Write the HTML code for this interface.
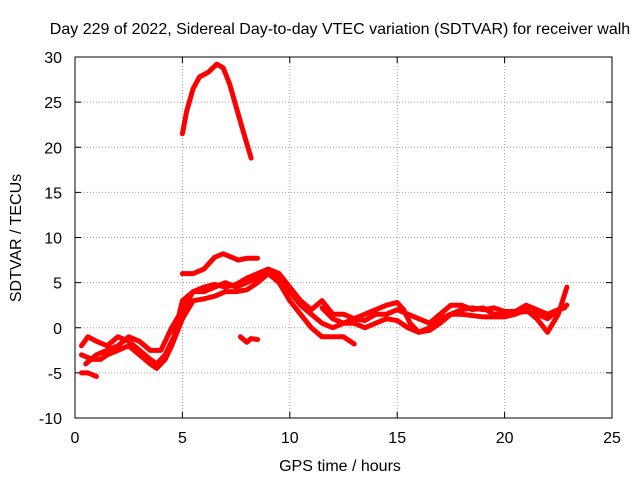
<!DOCTYPE html>
<html><head><meta charset="utf-8"><style>
body{margin:0;background:#fff;}
svg{display:block;font-family:"Liberation Sans",sans-serif;font-size:16px;}
</style></head><body>
<svg id="chart" width="640" height="480">
<rect width="640" height="480" fill="#fff"/>
<text x="340" y="34" text-anchor="middle" fill="#000">Day 229 of 2022, Sidereal Day-to-day VTEC variation (SDTVAR) for receiver walh</text>
<g id="grid"></g><g id="axes"></g><g id="series"></g>
<text x="340" y="471" text-anchor="middle">GPS time / hours</text>
<text transform="translate(21,238) rotate(-90)" text-anchor="middle">SDTVAR / TECUs</text>
</svg>
<script>
const xTicks=[0,5,10,15,20,25];
const yTicks=[-10,-5,0,5,10,15,20,25,30];
const seriesTop=[[5.0,21.5],[5.2,24],[5.5,26.5],[5.8,27.8],[6.2,28.3],[6.6,29.2],[6.9,28.8],[7.2,27],[7.5,24.5],[7.8,22],[8.2,18.8]];
const seriesMid=[[5.0,6],[5.5,6],[6.0,6.5],[6.5,7.8],[6.9,8.2],[7.3,7.8],[7.6,7.5],[8.0,7.7],[8.5,7.7]];
const seriesSmall=[[7.7,-1],[8.0,-1.6],[8.2,-1.2],[8.5,-1.3]];
const seriesLow=[[0.3,-5],[0.6,-5],[1.0,-5.4]];
const seriesA=[[0.3,-2],[0.6,-1],[1.0,-1.5],[1.5,-2],[2.0,-1],[2.5,-1.5],[3.0,-2.5],[3.5,-3.5],[3.8,-4],[4.2,-3],[4.6,-1],[5.0,3],[5.5,4],[6.0,4],[6.5,4.5],[7.0,5],[7.5,4.5],[8.0,5],[8.5,5.5],[9.0,6.2],[9.5,5.5],[10,4],[10.5,2.5],[11,1.5],[11.5,0.5],[12,0],[12.5,0.5],[13,1],[13.5,1.5],[14,2],[14.5,2.5],[15,2.8],[15.3,2],[15.6,0.5],[16,-0.5],[16.5,-0.3],[17,0.5],[17.5,1.5],[18,2],[18.5,2.2],[19,2],[19.5,2.2],[20,1.8],[20.5,1.8],[21,2.5],[21.5,2],[22,1.5],[22.5,2],[22.8,2.2]];
const seriesB=[[0.3,-3],[0.8,-3.5],[1.2,-3.5],[1.5,-3],[2,-2.5],[2.5,-2],[3,-3],[3.5,-4],[3.8,-4.5],[4.2,-3.5],[4.5,-2],[5,1],[5.5,3],[6,3.2],[6.5,3.5],[7,4],[7.5,4],[8,4.2],[8.5,5],[9,6],[9.5,5],[10,3],[10.5,1.5],[11,0],[11.5,-1],[12,-1],[12.5,-1],[13,-1.8]];
const seriesB2=[[11.5,2.2],[12,1],[12.5,0.5],[13,0.5],[13.5,0],[14,0.5],[14.5,1],[15,0.8],[15.5,0],[16,-0.5],[16.5,0],[17,1],[17.5,1.5],[18,1.5],[19,1.2],[20,1.2],[20.5,1.5],[21,2],[21.5,1],[22,-0.5],[22.5,1.5],[22.9,4.5]];
const seriesC=[[0.5,-4],[1,-3],[1.5,-2.5],[2,-2],[2.5,-1],[3,-1.5],[3.5,-2.5],[4,-2.5],[4.5,0],[5,2],[5.5,4],[6,4.5],[6.5,4.8],[7,4.5],[7.5,4.8],[8,5.5],[8.5,6],[9,6.5],[9.5,6],[10,4.5],[10.5,3],[11,2],[11.5,3],[12,1.5],[12.5,1.5],[13,1],[13.5,0.8],[14,1.5],[14.5,1.5],[15,2],[15.5,1.5],[16,1],[16.5,0.5],[17,1.5],[17.5,2.5],[18,2.5],[18.5,2],[19,2.2],[19.5,1.5],[20,1.5],[21,1.8],[21.5,1.5],[22,1],[22.5,2],[22.9,2.5]];
const L=75,R=612,T=57,B=418;
const X=v=>L+(v-0)/25*(R-L);
const Y=v=>B-(v+10)/40*(B-T);
const NS="http://www.w3.org/2000/svg";
function mk(tag,attrs,parent){const e=document.createElementNS(NS,tag);for(const k in attrs)e.setAttribute(k,attrs[k]);parent.appendChild(e);return e;}
const grid=document.getElementById('grid'),axes=document.getElementById('axes'),ser=document.getElementById('series');
xTicks.forEach(t=>{
 if(t>0&&t<25){const g=mk('line',{x1:X(t),x2:X(t),y1:T,y2:B,stroke:'#a0a0a0','stroke-dasharray':'1,2'},grid);
 
 }
 mk('line',{x1:X(t),x2:X(t),y1:B,y2:B-6,stroke:'#000'},axes);
 mk('line',{x1:X(t),x2:X(t),y1:T,y2:T+6,stroke:'#000'},axes);
 const tx=mk('text',{x:X(t),y:B+25,'text-anchor':'middle'},axes);tx.textContent=t;
 
 
});
yTicks.forEach(t=>{
 if(t>-10&&t<30){const g=mk('line',{x1:L,x2:R,y1:Y(t),y2:Y(t),stroke:'#a0a0a0','stroke-dasharray':'1,2'},grid);
 
 }
 mk('line',{x1:L,x2:L+6,y1:Y(t),y2:Y(t),stroke:'#000'},axes);
 mk('line',{x1:R,x2:R-6,y1:Y(t),y2:Y(t),stroke:'#000'},axes);
 const tx=mk('text',{x:L-13,y:Y(t)+6,'text-anchor':'end'},axes);tx.textContent=t;
 
 
});
const frame=mk('rect',{x:L,y:T,width:R-L,height:B-T,fill:'none',stroke:'#000'},axes);


[seriesTop,seriesMid,seriesSmall,seriesLow,seriesA,seriesB,seriesB2,seriesC].forEach((s,i)=>{
 const p=mk('polyline',{points:s.map(d=>X(d[0])+','+Y(d[1])).join(' '),fill:'none',stroke:'#ff0000','stroke-width':5,'stroke-linejoin':'round','stroke-linecap':'round'},ser);
 
 
});
</script>
</body></html>
